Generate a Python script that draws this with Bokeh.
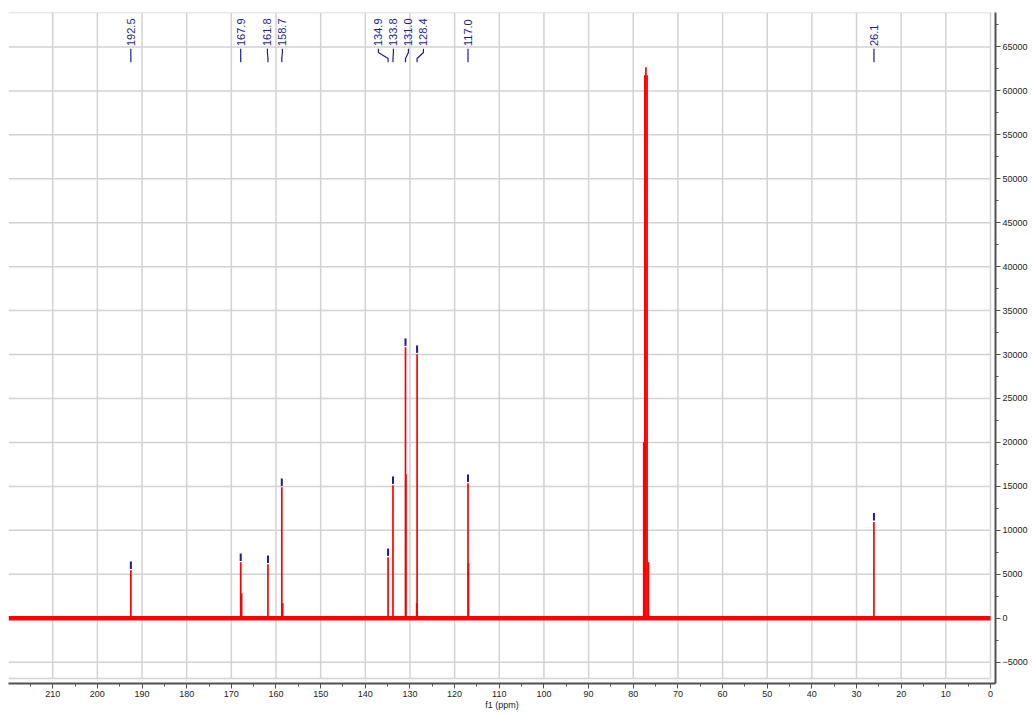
import math
from bokeh.plotting import figure
from bokeh.models import Range1d, SingleIntervalTicker
from bokeh.core.properties import value
from bokeh.embed import file_html
from bokeh.resources import INLINE

# ---------------- data ----------------
# picked, labelled peaks (ppm) and their heights
peak_ppm = [192.5, 167.9, 161.8, 158.7, 134.9, 133.8, 131.0, 128.4, 117.0, 26.1]
peak_height = [5460, 6370, 6140, 14900, 6940, 15130, 30840, 30040, 15360, 10960]
# unresolved shoulder lines next to the picked peaks
shoulder_ppm = [167.7, 158.5, 130.9, 128.5, 116.9]
shoulder_height = [2840, 1700, 16390, 1700, 6260]
# CDCl3 solvent multiplet (not labelled)
solvent_ppm = [77.65, 77.4, 77.16, 76.9, 76.6]
solvent_height = [20030, 61790, 62700, 61790, 6370]
# spectrum window limits and tick steps
ppm_left, ppm_right = 219.9, 0.0
int_low, int_high = -6860, 68920
ppm_step, int_step = 10, 5000

# ---------------- styles ----------------
RED = "#ff0000"
BLUE = "#1c1c8c"
GRID = "#d2d2d2"
AXIS = "#505050"
FONT = value("Liberation Sans")

FRAME_W, FRAME_H = 982, 666   # spectrum window in px
AXIS_GAP = 5                  # axes drawn a few px away from the window
ppm_per_px = (ppm_left - ppm_right) / FRAME_W
upp = (int_high - int_low) / FRAME_H

p = figure(width=1032, height=714,
           x_range=Range1d(ppm_left, ppm_right - AXIS_GAP * ppm_per_px),
           y_range=Range1d(int_low - AXIS_GAP * upp, int_high),
           y_axis_location="right",
           output_backend="svg", toolbar_location=None,
           min_border_left=8, min_border_top=12,
           min_border_right=37, min_border_bottom=31)
p.background_fill_color = "white"
p.border_fill_color = "white"
p.outline_line_color = None

xt = SingleIntervalTicker(interval=ppm_step, num_minor_ticks=2)
yt = SingleIntervalTicker(interval=int_step, num_minor_ticks=2)
p.xaxis.ticker = xt
p.yaxis.ticker = yt
p.xgrid.grid_line_color = None
p.ygrid.grid_line_color = None

# grid confined to the spectrum window
gx = [v for v in range(0, int(ppm_left) + 1, ppm_step)]
gy = [v for v in range(-int_step, int(int_high) + 1, int_step)] + [int_low, int_high]
p.segment(x0=gx, y0=[int_low] * len(gx), x1=gx, y1=[int_high] * len(gx),
          line_color=GRID, line_width=1.5)
p.segment(x0=[ppm_left] * len(gy), y0=gy, x1=[ppm_right] * len(gy), y1=gy,
          line_color=GRID, line_width=1.5)

for ax in (p.xaxis, p.yaxis):
    ax.axis_line_color = AXIS
    ax.axis_line_width = 2
    ax.major_tick_line_color = AXIS
    ax.minor_tick_line_color = AXIS
    ax.major_tick_in = 0
    ax.minor_tick_in = 0
    ax.major_tick_out = 5
    ax.minor_tick_out = 3
    ax.major_label_text_font = "Liberation Sans"
    ax.major_label_text_font_size = "9px"
    ax.major_label_text_color = "#222222"

p.xaxis.major_label_standoff = 2
p.yaxis.major_label_standoff = 2
p.xaxis.axis_label = "f1 (ppm)"
p.xaxis.axis_label_text_font = "Liberation Sans"
p.xaxis.axis_label_text_font_size = "9px"
p.xaxis.axis_label_text_font_style = "normal"
p.xaxis.axis_label_text_color = "#222222"
p.xaxis.axis_label_standoff = 0

# ---------------- spectrum ----------------
# baseline (noise band)
p.line(x=[ppm_left, ppm_right], y=[0, 0], line_color=RED, line_width=4.5)

all_ppm = peak_ppm + shoulder_ppm + solvent_ppm
all_h = peak_height + shoulder_height + solvent_height
p.segment(x0=all_ppm, y0=[0] * len(all_ppm), x1=all_ppm, y1=all_h,
          line_color=RED, line_width=1.7)

# peak-pick markers just above each picked peak
mk_lo, mk_hi = 150, 1000
p.segment(x0=peak_ppm, y0=[h + mk_lo for h in peak_height],
          x1=peak_ppm, y1=[h + mk_hi for h in peak_height],
          line_color=BLUE, line_width=2)

# ---------------- peak labels ----------------
def spread(pos, gap):
    groups = [[v] for v in sorted(pos, reverse=True)]

    def place(g):
        c = sum(g) / len(g)
        return [c + (len(g) - 1) / 2 * gap - i * gap for i in range(len(g))]

    changed = True
    while changed:
        changed = False
        for i in range(len(groups) - 1):
            a, b = place(groups[i]), place(groups[i + 1])
            if a[-1] - b[0] < gap:
                groups[i] = groups[i] + groups.pop(i + 1)
                changed = True
                break
    out = []
    for g in groups:
        out += place(g)
    return out

sorted_ppm = sorted(peak_ppm, reverse=True)
label_x = spread(sorted_ppm, 3.36)

y_text = int_high - 33.5 * upp
c_top = int_high - 36.3 * upp
c_b1 = int_high - 40.0 * upp
c_b2 = int_high - 46.0 * upp
c_bot = int_high - 49.7 * upp

p.text(x=label_x, y=[y_text] * len(label_x),
       text=[f"{v:.1f}" for v in sorted_ppm],
       angle=math.pi / 2, text_align="left", text_baseline="middle",
       text_font=FONT, text_font_size="11px", text_color=BLUE)

p.multi_line(xs=[[lx, lx, px, px] for lx, px in zip(label_x, sorted_ppm)],
             ys=[[c_top, c_b1, c_b2, c_bot]] * len(label_x),
             line_color=BLUE, line_width=1.2)

open("out.html", "w").write(file_html(p, INLINE))
